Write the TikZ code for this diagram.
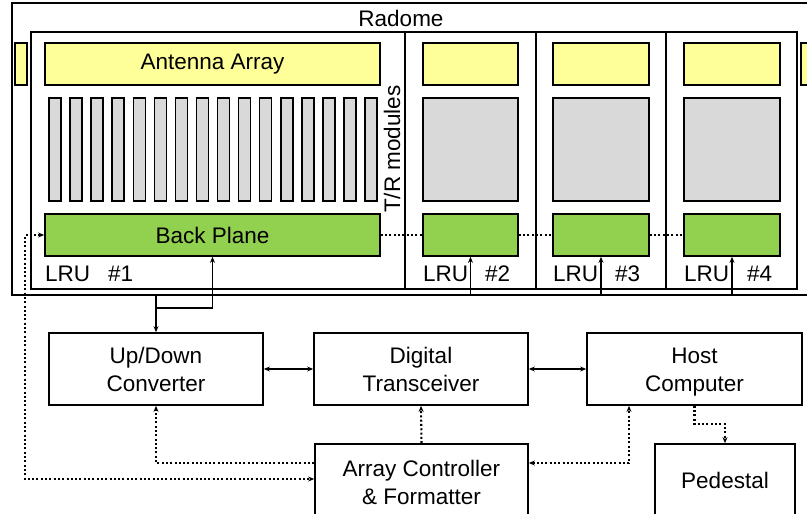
\documentclass[tikz,border=0pt]{standalone}
\usepackage{fontspec}
\setmainfont{Liberation Sans}
\usetikzlibrary{arrows.meta}
\definecolor{yel}{HTML}{FFFF99}
\definecolor{grn}{HTML}{92D050}
\definecolor{gry}{HTML}{D9D9D9}
\newcommand{\myStrA}{\rule{0pt}{22pt}}
\newcommand{\myStrB}{\rule[-6pt]{0pt}{6pt}}
\begin{document}
\begin{tikzpicture}[x=1pt,y=-1pt,
  txt/.style={font=\fontsize{22.5}{28}\selectfont, inner sep=0pt},
  bx/.style={draw, line width=1.7pt, inner sep=0pt, align=center, font=\fontsize{22.5}{28}\selectfont},
  ybox/.style={bx, fill=yel},
  gbox/.style={bx, fill=grn},
  grbox/.style={bx, fill=gry},
  conn/.style={line width=1.3pt, -{Stealth[length=6pt,width=5pt]}},
  conn2/.style={line width=1.3pt, {Stealth[length=6pt,width=5pt]}-{Stealth[length=6pt,width=5pt]}},
  dd/.style={line width=2.1pt, dash pattern=on 2pt off 2.3pt},
  dto/.style={dd, -{Stealth[length=6pt,width=5pt]}},
  dboth/.style={dd, {Stealth[length=6pt,width=5pt]}-{Stealth[length=6pt,width=5pt]}}
]
\useasboundingbox (0,0) rectangle (807,514);
\clip (0,0) rectangle (807,514);
% Radome
\node[bx, minimum width=818pt, minimum height=292pt] (radome) at (421,149) {};
\node[txt] (radlbl) at (401,18) {Radome};
% side partial antennas
\node[ybox, minimum width=12pt, minimum height=42pt] (sl) at (21,64) {};
\node[ybox, minimum width=14pt, minimum height=42pt] (sr) at (808,64) {};
% LRU frames
\node[bx, minimum width=374pt, minimum height=257pt] (lru1) at (218,160.5) {};
\node[bx, minimum width=131pt, minimum height=257pt] (lru2) at (470.5,160.5) {};
\node[bx, minimum width=130pt, minimum height=257pt] (lru3) at (601,160.5) {};
\node[bx, minimum width=131pt, minimum height=257pt] (lru4) at (731.5,160.5) {};
% LRU 1 content
\node[ybox, minimum width=335pt, minimum height=42pt] (ant) at (212.5,64) {Antenna Array};
\foreach \i in {0,...,15}{
  \node[grbox, line width=1.5pt, minimum width=12pt, minimum height=103pt] (tr\i) at ({55+21.07*\i},149.5) {};
}
\node[gbox, minimum width=335pt, minimum height=42pt] (bp1) at (212.5,235) {Back Plane};
\node[txt, rotate=90] (trlbl) at (392,149) {T/R modules};
% LRU 2-4 content
\node[ybox, minimum width=95pt, minimum height=42pt] (ya2) at (470.5,64) {};
\node[grbox, minimum width=95pt, minimum height=103pt] (ga2) at (470.5,149.5) {};
\node[gbox, minimum width=95pt, minimum height=42pt] (bp2) at (470.5,235) {};
\node[ybox, minimum width=96pt, minimum height=42pt] (ya3) at (601,64) {};
\node[grbox, minimum width=96pt, minimum height=103pt] (ga3) at (601,149.5) {};
\node[gbox, minimum width=96pt, minimum height=42pt] (bp3) at (601,235) {};
\node[ybox, minimum width=96pt, minimum height=42pt] (ya4) at (732,64) {};
\node[grbox, minimum width=96pt, minimum height=103pt] (ga4) at (732,149.5) {};
\node[gbox, minimum width=96pt, minimum height=42pt] (bp4) at (732,235) {};
% LRU labels
\node[txt, anchor=base west] (l1) at (45,281) {LRU};
\node[txt, anchor=base west] (n1) at (108,281) {\#1};
\node[txt, anchor=base west] (l2) at (423,281) {LRU};
\node[txt, anchor=base west] (n2) at (485,281) {\#2};
\node[txt, anchor=base west] (l3) at (553,281) {LRU};
\node[txt, anchor=base west] (n3) at (615,281) {\#3};
\node[txt, anchor=base west] (l4) at (684,281) {LRU};
\node[txt, anchor=base west] (n4) at (747,281) {\#4};
% Lower boxes
\node[bx, minimum width=214pt, minimum height=72pt] (udc) at (156,369) {\myStrA Up/Down\\\myStrB Converter};
\node[bx, minimum width=214pt, minimum height=72pt] (dt) at (421,369) {\myStrA Digital\\\myStrB Transceiver};
\node[bx, minimum width=215pt, minimum height=72pt] (hc) at (694.5,369) {\myStrA Host\\\myStrB Computer};
\node[bx, minimum width=213pt, minimum height=76pt] (acf) at (421.5,482) {\myStrA Array Controller\\\myStrB\& Formatter};
\node[bx, minimum width=140pt, minimum height=76pt] (ped) at (725,482) {\raisebox{3pt}{Pedestal}};
% helper coordinates
\coordinate (j) at (156,308);
\coordinate (y463) at (0,463);
\coordinate (y479) at (0,479);
\coordinate (xl) at (25,0);
\coordinate (xh) at (629,0);
\coordinate (y424) at (0,424);
% solid connectors
\draw[conn] (udc.north |- radome.south) -- (udc.north);
\draw[conn] (j) -| (bp1.south);
\draw[conn] (bp2.south |- radome.south) -- (bp2.south);
\draw[conn] (bp3.south |- radome.south) -- (bp3.south);
\draw[conn] (bp4.south |- radome.south) -- (bp4.south);
\draw[conn2] (udc.east) -- (dt.west);
\draw[conn2] (dt.east) -- (hc.west);
% dotted connectors
\draw[dd] (bp1.east) -- (bp2.west);
\draw[dd] (bp2.east) -- (bp3.west);
\draw[dd] (bp3.east) -- (bp4.west);
\draw[dto] (acf.north) -- (dt.south);
\draw[dto] (acf.west |- y463) -| (udc.south);
\draw[dboth] (bp1.west) -| (xl |- y479) -- (acf.west |- y479);
\draw[dboth] (acf.east |- y463) -| (xh |- hc.south);
\draw[dto] (hc.south) -- (hc.south |- y424) -| (ped.north);
\end{tikzpicture}
\end{document}
